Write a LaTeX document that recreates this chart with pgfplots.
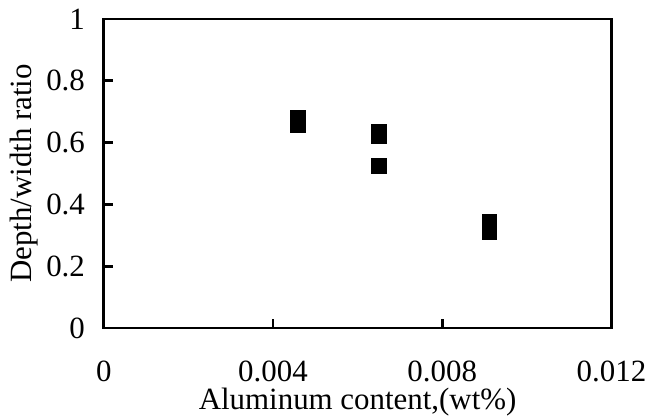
\documentclass[border=0pt]{standalone}
\usepackage{fontspec}
\setmainfont{Liberation Serif}
\usepackage{pgfplots}
\pgfplotsset{compat=1.18}
\begin{document}
\begin{tikzpicture}[font=\fontsize{14pt}{16pt}\selectfont]
\begin{axis}[
	scale only axis,
	width=230pt, height=140pt,
	xmin=0, xmax=0.012, ymin=0, ymax=1,
	xtick={0,0.004,0.008,0.012},
	xticklabels={0,0.004,0.008,0.012},
	ytick={0,0.2,0.4,0.6,0.8,1},
	yticklabels={0,0.2,0.4,0.6,0.8,1},
	scaled x ticks=false,
	tick pos=left,
	tick align=inside,
	major tick length=4pt,
	axis line style={line width=1.3pt},
	every tick/.style={black, line width=1.3pt},
	xticklabel style={anchor=center, inner sep=0pt, yshift=-19.5pt},
	yticklabel style={xshift=-5pt},
	/pgf/number format/assume math mode=true,
	xlabel={Aluminum content,(wt\%)},
	ylabel={Depth/width ratio},
	xlabel style={at={(axis description cs:0.5,-0.24)}, anchor=center, inner sep=0pt},
	ylabel style={at={(axis description cs:-0.156,0.5)}, anchor=center},
]
\addplot[only marks, mark=square*, mark size=3.3pt, black]
	coordinates {(0.00459,0.679) (0.00459,0.655) (0.0065,0.634) (0.0065,0.622) (0.0065,0.524) (0.00912,0.345) (0.00912,0.325) (0.00912,0.31)};
\end{axis}
\pgfresetboundingbox
\path (current axis.south west) ++(-47pt,-41pt) coordinate (bl);
\path (current axis.north east) ++(17pt,8.6pt) coordinate (tr);
\useasboundingbox (bl) rectangle (tr);
\end{tikzpicture}
\end{document}
